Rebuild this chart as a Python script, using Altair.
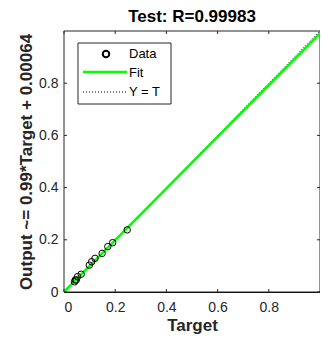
import altair as alt
import pandas as pd

# data points (Target, Output)
target = [0.041, 0.044, 0.048, 0.053, 0.067, 0.099, 0.108, 0.121, 0.149, 0.171, 0.190, 0.247]
output = [0.039, 0.046, 0.046, 0.059, 0.068, 0.103, 0.116, 0.129, 0.148, 0.174, 0.189, 0.238]
slope, intercept = 0.99, 0.00064
line_x = [0.0, 1.0]
tick_vals = [0, 0.2, 0.4, 0.6, 0.8]

W, H = 256, 261
FONT = "Liberation Sans"

pts = pd.DataFrame({"Target": target, "Output": output})
fit = pd.DataFrame({"Target": line_x, "Output": [slope * v + intercept for v in line_x]})
ident = pd.DataFrame({"Target": line_x, "Output": line_x})
ticks = pd.DataFrame({"v": tick_vals})

xs = alt.Scale(domain=[0, 1], nice=False)
ys = alt.Scale(domain=[0, 1], nice=False)
lblexpr = "datum.value == 0 ? '0' : format(datum.value, '.1f')"

xaxis = alt.Axis(values=tick_vals, ticks=False, grid=False, labelExpr=lblexpr,
                 labelFontSize=14, labelColor="#262626", labelFont=FONT, labelPadding=8,
                 title="Target", titleFont=FONT, titleFontSize=17, titleFontWeight="bold",
                 titleColor="#262626", titlePadding=3, domainColor="black")
yaxis = alt.Axis(values=tick_vals, ticks=False, grid=False, labelExpr=lblexpr,
                 labelFontSize=14, labelColor="#262626", labelFont=FONT, labelPadding=6,
                 title="Output ~= 0.99*Target + 0.00064", titleFont=FONT, titleFontSize=17,
                 titleFontWeight="bold", titleColor="#262626", titlePadding=3,
                 domainColor="black")

one = pd.DataFrame({"a": [0]})

# plot frame (box on)
frame = alt.Chart(one).mark_rect(fill="white", stroke="#262626", strokeWidth=1).encode(
    x=alt.value(0), x2=alt.value(W), y=alt.value(0), y2=alt.value(H))

base_ident = alt.Chart(ident).mark_line(color="black", strokeDash=[1, 2], strokeWidth=1).encode(
    x=alt.X("Target:Q", scale=xs, axis=xaxis),
    y=alt.Y("Output:Q", scale=ys, axis=yaxis),
)
fit_line = alt.Chart(fit).mark_line(color="#00FF00", strokeWidth=2.5, clip=True).encode(
    x=alt.X("Target:Q", scale=xs), y=alt.Y("Output:Q", scale=ys))
points = alt.Chart(pts).mark_point(shape="circle", filled=False, color="black", size=42,
                                   strokeWidth=1, opacity=1).encode(
    x=alt.X("Target:Q", scale=xs), y=alt.Y("Output:Q", scale=ys))

tb = alt.Chart(ticks).mark_rule(color="#262626", strokeWidth=1).encode(
    x=alt.X("v:Q", scale=xs), y=alt.value(H), y2=alt.value(H - 3))
tt = alt.Chart(ticks).mark_rule(color="#262626", strokeWidth=1).encode(
    x=alt.X("v:Q", scale=xs), y=alt.value(0), y2=alt.value(3))
tl = alt.Chart(ticks).mark_rule(color="#262626", strokeWidth=1).encode(
    y=alt.Y("v:Q", scale=ys), x=alt.value(0), x2=alt.value(3))
tr = alt.Chart(ticks).mark_rule(color="#262626", strokeWidth=1).encode(
    y=alt.Y("v:Q", scale=ys), x=alt.value(W), x2=alt.value(W - 3))

# legend (drawn manually)
lg_box = alt.Chart(one).mark_rect(fill="white", stroke="#262626", strokeWidth=1).encode(
    x=alt.value(14), x2=alt.value(107), y=alt.value(12), y2=alt.value(73))
lg_circ = alt.Chart(one).mark_point(shape="circle", filled=False, color="black", size=42,
                                    opacity=1).encode(x=alt.value(42), y=alt.value(23))
lg_fit = alt.Chart(one).mark_rule(color="#00FF00", strokeWidth=2.5).encode(
    x=alt.value(19), x2=alt.value(63), y=alt.value(41))
lg_id = alt.Chart(one).mark_rule(color="black", strokeDash=[1, 2], strokeWidth=1).encode(
    x=alt.value(19), x2=alt.value(63), y=alt.value(61))
lg_labels = ["Data", "Fit", "Y = T"]
lg_txt = []
for lab, yy in zip(lg_labels, [23, 42, 61]):
    lg_txt.append(alt.Chart(one).mark_text(text=lab, align="left", baseline="middle",
                                           font=FONT, fontSize=13, color="black").encode(
        x=alt.value(65), y=alt.value(yy)))

chart = alt.layer(frame, base_ident, fit_line, points, tb, tt, tl, tr,
                  lg_box, lg_circ, lg_fit, lg_id, *lg_txt).properties(
    width=W, height=H,
    title=alt.TitleParams("Test: R=0.99983", font=FONT, fontSize=17, fontWeight="bold",
                          color="black", anchor="middle", offset=3),
    autosize=alt.AutoSizeParams(type="none"),
    padding={"left": 56, "top": 23, "right": 0, "bottom": 45},
    background="white",
).configure_view(stroke="#262626", strokeWidth=1)

chart.save("out.html", embed_options={"renderer": "svg", "actions": False})
